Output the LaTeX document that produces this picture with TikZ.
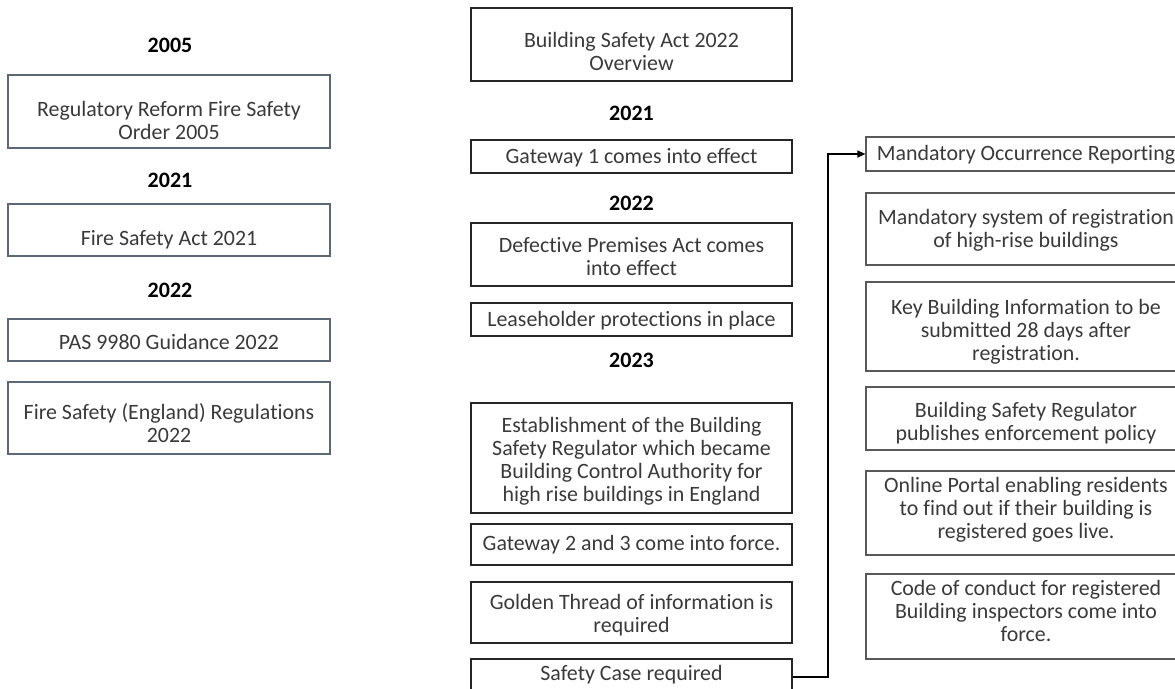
\documentclass[tikz,border=0pt]{standalone}
\usepackage{fontspec}
\setmainfont{Carlito}[Ligatures={NoCommon}]
\usetikzlibrary{arrows.meta}
\definecolor{txt}{HTML}{3A3A3A}
\definecolor{lcol}{HTML}{5A6878}
\definecolor{mcol}{HTML}{262626}
\definecolor{rcol}{HTML}{595959}
\newcommand{\bt}[2]{\raisebox{\dimexpr-7.7pt-(#1pt)\relax}[0pt][0pt]{\begin{tabular}{@{}c@{}}#2\end{tabular}}}
\tikzset{
  basebox/.style={rectangle, inner sep=0pt, text=txt, font=\fontsize{21.9}{23}\selectfont},
  lbox/.style={basebox, draw=lcol, line width=1.2pt, minimum width=322pt},
  mbox/.style={basebox, draw=mcol, line width=1.4pt, minimum width=321pt},
  rbox/.style={basebox, draw=rcol, line width=1.2pt, minimum width=320pt},
  year/.style={inner sep=0pt, text=black, font=\fontsize{22}{23}\selectfont\bfseries},
  conn/.style={line width=1.3pt, draw=black, -{Triangle[length=8pt,width=7pt]}}
}
\begin{document}
\begin{tikzpicture}[x=1pt,y=-1pt]
\clip (0,0) rectangle (1175,688);
\fill[white] (0,0) rectangle (1175,688);
% left column
\node[year] (y2005) at (170,45) {2005};
\node[lbox, minimum height=73pt] (l1) at (169,111.5) {\bt{9.5}{Regulatory Reform Fire Safety\\Order 2005}};
\node[year] (y2021a) at (170,180) {2021};
\node[lbox, minimum height=52pt] (l2) at (169,230) {\bt{8}{Fire Safety Act 2021}};
\node[year] (y2022a) at (170,290) {2022};
\node[lbox, minimum height=42pt] (l3) at (169,340) {\bt{2}{PAS 9980 Guidance 2022}};
\node[lbox, minimum height=72pt] (l4) at (169,418) {\bt{5.5}{Fire Safety (England) Regulations\\2022}};
% middle column
\node[mbox, minimum height=73pt] (m0) at (631.5,44.5) {\bt{7}{Building Safety Act 2022\\Overview}};
\node[year] (y2021b) at (631.5,113) {2021};
\node[mbox, minimum height=33pt] (m1) at (631.5,156.5) {\bt{-0.5}{Gateway 1 comes into effect}};
\node[year] (y2022b) at (631.5,203) {2022};
\node[mbox, minimum height=63pt] (m2) at (631.5,254.5) {\bt{2}{Defective Premises Act comes\\into effect}};
\node[mbox, minimum height=33pt] (m3) at (631.5,319.5) {\bt{-0.5}{Leaseholder protections in place}};
\node[year] (y2023) at (631.5,360) {2023};
\node[mbox, minimum height=110pt] (m4) at (631.5,458) {\bt{2}{Establishment of the Building\\Safety Regulator which became\\Building Control Authority for\\high rise buildings in England}};
\node[mbox, minimum height=41pt] (m5) at (631.5,544.5) {\bt{-1.5}{Gateway 2 and 3 come into force.}};
\node[mbox, minimum height=61pt] (m6) at (631.5,612.5) {\bt{1.5}{Golden Thread of information is\\required}};
\node[mbox, minimum height=36pt] (sc) at (631.5,677) {\bt{-4}{Safety Case required}};
% right column
\node[rbox, minimum height=34pt] (mor) at (1026,154) {\bt{-1}{Mandatory Occurrence Reporting}};
\node[rbox, minimum height=72pt] (r2) at (1026,229) {\bt{0}{Mandatory system of registration\\of high-rise buildings}};
\node[rbox, minimum height=89pt] (r3) at (1026,326.5) {\bt{3.5}{Key Building Information to be\\submitted 28 days after\\registration.}};
\node[rbox, minimum height=63pt] (r4) at (1026,418.5) {\bt{3}{Building Safety Regulator\\publishes enforcement policy}};
\node[rbox, minimum height=84pt] (r5) at (1026,513) {\bt{-5}{Online Portal enabling residents\\to find out if their building is\\registered goes live.}};
\node[rbox, minimum height=85pt] (r6) at (1026,616.5) {\bt{-5.5}{Code of conduct for registered\\Building inspectors come into\\force.}};
% connector
\coordinate (jx) at (828,0);
\draw[conn] (sc.east) -- (sc.east -| jx) |- (mor.west);
\end{tikzpicture}
\end{document}
